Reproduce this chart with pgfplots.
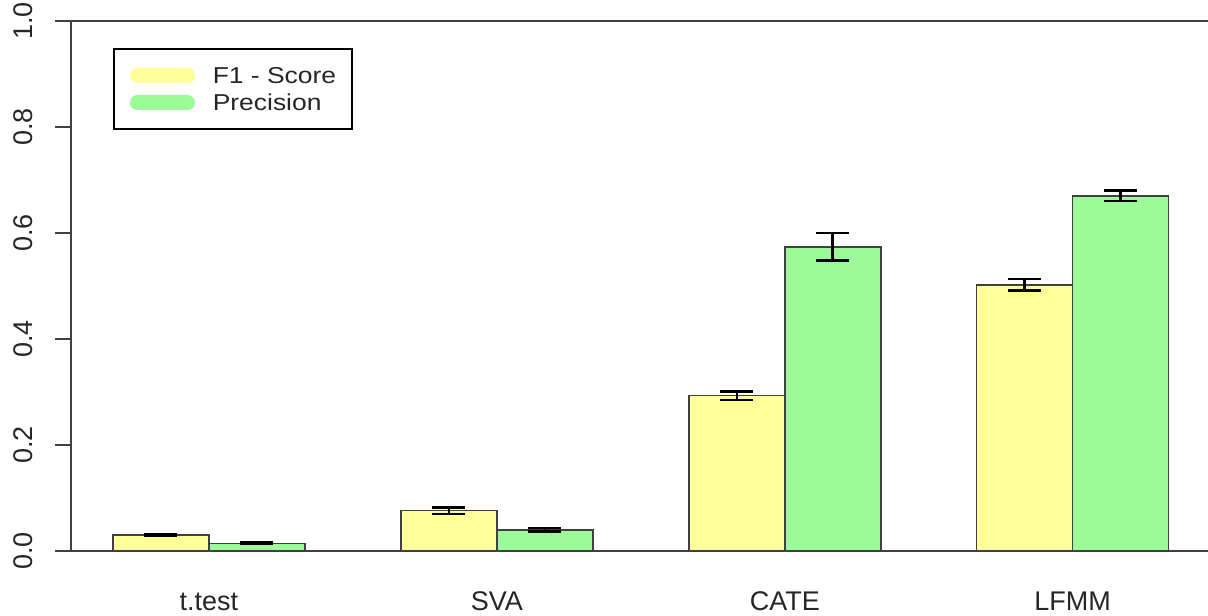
\documentclass[border=0pt]{standalone}
\usepackage{fontspec}
\setmainfont{Liberation Sans}
\newfontfamily\legfont[FakeStretch=1.15]{Liberation Sans}
\usepackage{pgfplots}
\usepackage{pgfplotstable}
\pgfplotsset{compat=1.18}
\definecolor{barY}{HTML}{FFFF99}
\definecolor{barG}{HTML}{9CFB98}
\definecolor{axgray}{HTML}{404040}

\pgfplotstableread{
x y err
1.5 0.030 0.0015
4.5 0.076 0.006
7.5 0.293 0.008
10.5 0.502 0.011
}\fone
\pgfplotstableread{
x y err
2.5 0.0145 0.001
5.5 0.040 0.0035
8.5 0.574 0.026
11.5 0.670 0.010
}\prec

\begin{document}
\begin{tikzpicture}
\begin{axis}[
  name=ax,
  scale only axis, width=568.5pt, height=265pt,
  xmin=0.5625, xmax=12.41, ymin=0, ymax=1,
  axis x line=box, axis y line=left,
  axis line style={-, draw=axgray, line width=1pt},
  xtick={2,5,8,11}, xticklabels={t.test,SVA,CATE,LFMM},
  xtick style={draw=none},
  ytick={0,0.2,0.4,0.6,0.8,1.0},
  yticklabels={0.0,0.2,0.4,0.6,0.8,1.0},
  ytick style={draw=axgray, line width=1pt},
  tick align=outside, major tick length=8pt,
  yticklabel style={rotate=90, anchor=south, inner sep=0pt},
  yticklabel shift=11pt,
  xticklabel style={anchor=base, inner sep=0pt, yshift=-21.5pt},
  ticklabel style={font=\fontsize{13.5}{16}\selectfont, text=black!85},
  legend style={at={(axis description cs:0.0369,0.949)}, anchor=north west,
    draw=black, line width=0.8pt, fill=white,
    inner xsep=7.75pt, inner ysep=9.25pt, row sep=5.3pt,
    font=\legfont\fontsize{11.5}{13}\selectfont,
    nodes={inner sep=0pt, text height=8.2pt, text depth=0pt, text=black!85},
    /tikz/every odd column/.append style={column sep=8.5pt}},
  legend cell align=left,
]
\addplot[ybar, bar width=1, bar shift=0pt, fill=barY, draw=axgray, line width=0.75pt,
  legend image code/.code={\draw[line width=7.5pt, line cap=round, draw=barY] (3.75pt,0pt) -- (28.75pt,0pt); \path (0pt,0pt) (32.5pt,0pt);},
  error bars/.cd, y dir=both, y explicit, error mark=|,
  error bar style={line width=1.3pt, black},
  error mark options={black, line width=1.3pt, mark size=8.25pt}]
  table[x=x, y=y, y error=err] {\fone};
\addlegendentry{F1 - Score}
\addplot[ybar, bar width=1, bar shift=0pt, fill=barG, draw=axgray, line width=0.75pt,
  legend image code/.code={\draw[line width=7.5pt, line cap=round, draw=barG] (3.75pt,0pt) -- (28.75pt,0pt); \path (0pt,0pt) (32.5pt,0pt);},
  error bars/.cd, y dir=both, y explicit, error mark=|,
  error bar style={line width=1.3pt, black},
  error mark options={black, line width=1.3pt, mark size=8.25pt}]
  table[x=x, y=y, y error=err] {\prec};
\addlegendentry{Precision}
\end{axis}
\pgfresetboundingbox
\path[use as bounding box] ([xshift=-35.5pt,yshift=-32pt]ax.south west) rectangle ([yshift=10.5pt]ax.north east);
\end{tikzpicture}
\end{document}
